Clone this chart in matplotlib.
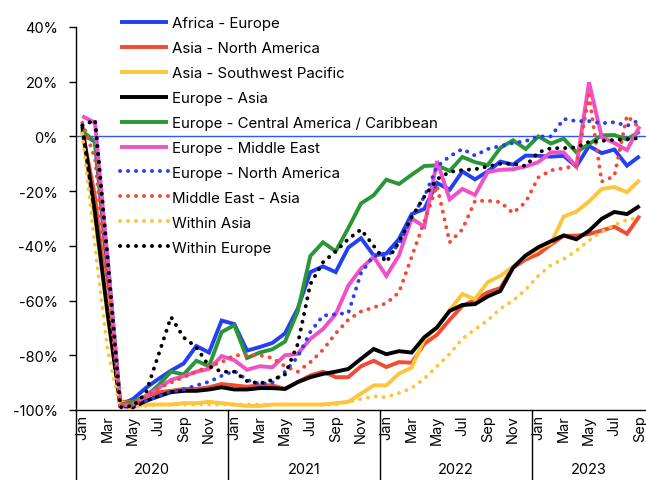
import matplotlib
matplotlib.use("Agg")
import matplotlib.pyplot as plt
import matplotlib.transforms as mtransforms
from matplotlib.lines import Line2D

plt.rcParams['font.family'] = ['Inter', 'DejaVu Sans']

years = ["2020", "2021", "2022", "2023"]
month_names = ["Jan", "Feb", "Mar", "Apr", "May", "Jun", "Jul", "Aug", "Sep", "Oct", "Nov", "Dec"]
n_months = 45  # Jan 2020 .. Sep 2023

africa_europe = [1, -2, -50, -98, -96, -92, -88.7, -85.6, -83, -76.6, -79, -67.3,
                 -68.6, -78.3, -77, -75.5, -72, -63, -49.6, -47.5, -49.6, -40.6, -37.2, -43.5,
                 -42.8, -37.5, -28.4, -26.5, -17, -19.5, -12.8, -15.7, -12.8, -9.2, -10.3, -7,
                 -7.1, -7.4, -7.1, -11, -3.5, -6.1, -4.8, -10.7, -7.2]
asia_north_america = [2, -22, -62, -97, -97, -95, -93.5, -93, -92.3, -92.3, -91.7, -90.5,
                      -91, -91.5, -91, -91, -92.3, -89.8, -87.4, -86, -88, -88, -84, -82,
                      -84.3, -82.5, -82.7, -75.8, -72.5, -67, -62, -59.7, -57, -55.4, -48, -45,
                      -43, -39.5, -36.3, -36.3, -35.7, -34.4, -33, -35.6, -29]
asia_sw_pacific = [2, -30, -62, -97, -98.5, -98, -98, -98, -97.5, -97.5, -97, -97.5,
                   -98, -98.5, -98.5, -98, -98, -98, -98, -98, -97.5, -97, -94, -91,
                   -91, -86.7, -84.5, -74, -70, -63.5, -57.6, -59.5, -53.3, -51, -47.6, -44,
                   -41, -39, -29.3, -27.5, -23.8, -19.2, -18.5, -20.4, -15.9]
europe_asia = [3.5, -28, -65, -98.5, -99, -96.7, -95, -93.5, -93, -93, -92.5, -91.7,
               -92.5, -92.5, -92, -92, -92.3, -89.8, -88, -86.8, -86, -85, -81.3, -77.7,
               -79.6, -78.5, -79, -73.4, -69.8, -63.8, -61.6, -61.3, -58.5, -56.5, -48, -43.5,
               -40.5, -38.3, -36.2, -37.6, -34.5, -30.1, -27.6, -28.4, -25.4]
europe_central_america = [2, -2, -45, -98, -97, -95, -91, -86, -87, -82, -84, -71.5,
                          -69, -81, -79, -77.8, -75, -64, -43.7, -38.7, -42, -33.5, -24.5, -21.5,
                          -15.8, -17.4, -14, -10.8, -10.6, -12.6, -7.5, -9.4, -10.5, -4.2, -1.4, -4.6,
                          0, -2.6, -0.8, -5.8, -2.8, 0.4, 0.5, -1.1, 1.8]
europe_middle_east = [7.4, 5, -45, -98.5, -98, -95, -92, -89, -87.6, -86, -85, -80.3,
                      -81.8, -85.3, -84, -84.4, -80, -79.5, -74, -70.4, -65, -54.5, -48.3, -44,
                      -51, -43.5, -30, -33, -9, -23, -19.2, -21.4, -13, -12.2, -12, -11,
                      -9.4, -5.8, -5.8, -11, 19.8, -0.2, -2.4, -5, 3.7]
europe_north_america = [4, 6, -45, -98.5, -98, -96.7, -95, -93.4, -92.5, -91, -89.7, -87.5,
                        -85.7, -89, -90.5, -90, -86, -80.6, -71.5, -65.5, -65, -64.5, -50, -43.6,
                        -44, -39.5, -29.5, -22, -11, -7.3, -4.6, -7, -4.6, -3.5, -2.4, -1.7,
                        0, 0, 6.4, 5.6, 5.6, 4.8, 5.2, 3.9, 6]
middle_east_asia = [5, -8, -55, -98, -98, -95, -92, -90, -88, -86, -84, -82.5,
                    -80, -80, -80, -81, -84, -86, -82.5, -78, -72, -67, -64, -62.5,
                    -61, -57, -44, -31, -18, -38.7, -34, -23.6, -23.5, -24, -28, -24,
                    -15, -12.4, -11.6, -10.7, 15, -16.5, -14.5, 7.6, 3]
within_asia = [1, -40, -78, -99.5, -99, -98.5, -98, -98, -98, -98, -98, -98,
               -98, -98, -98, -98, -98, -98, -98, -98, -98, -97, -96, -95,
               -95.3, -93.8, -92, -88.5, -84, -79.5, -74, -70.5, -67.3, -63, -60, -56,
               -51, -47, -44.8, -41.8, -38, -34.8, -32.4, -30.5, -29.6]
within_europe = [4, 6, -45, -99, -98.5, -94, -80, -66, -73.5, -77, -84, -86,
                 -86, -89.4, -90.3, -89, -87, -76, -54, -46, -42, -37.5, -34, -40,
                 -46, -38.6, -29.5, -22, -15.6, -13, -12.3, -12, -11, -10, -10, -10.8,
                 -5.8, -4.3, -4.3, -4, -2, -1.6, -1.3, -1, -0.6]

series = [
    ("Africa - Europe", africa_europe, "#2440f5", "solid"),
    ("Asia - North America", asia_north_america, "#f24a33", "solid"),
    ("Asia - Southwest Pacific", asia_sw_pacific, "#fcc63a", "solid"),
    ("Europe - Asia", europe_asia, "#000000", "solid"),
    ("Europe - Central America / Caribbean", europe_central_america, "#2a9638", "solid"),
    ("Europe - Middle East", europe_middle_east, "#f050c8", "solid"),
    ("Europe - North America", europe_north_america, "#2440f5", "dotted"),
    ("Middle East - Asia", middle_east_asia, "#f24a33", "dotted"),
    ("Within Asia", within_asia, "#fcc63a", "dotted"),
    ("Within Europe", within_europe, "#000000", "dotted"),
]

W, H = 646, 481
fig = plt.figure(figsize=(W / 100, H / 100), dpi=100)
ax = fig.add_axes([76 / W, 1 - 411 / H, (646 - 76) / W, (411 - 28) / H])

x = list(range(n_months))
handles = []
for name, vals, color, style in series:
    if style == "solid":
        ln, = ax.plot(x, vals, color=color, lw=2.8, solid_capstyle="butt",
                      solid_joinstyle="miter", label=name, zorder=3)
    else:
        ln, = ax.plot(x, vals, color=color, lw=2.8, linestyle=(0, (0.05, 2.0)),
                      dash_capstyle="round", label=name, zorder=3)
    handles.append(ln)

ax.axhline(0, color="#3355ff", lw=1.0, zorder=2)

ax.set_xlim(-0.5, n_months - 0.5)
ax.set_ylim(-100, 40)
ax.set_yticks(range(-100, 41, 20))
ax.set_yticklabels([f"{v}%" for v in range(-100, 41, 20)], fontsize=10.5)
ax.tick_params(axis="y", length=5, width=1, pad=8, color="#000000")

ticks = list(range(0, n_months, 2))
ax.set_xticks(ticks)
ax.set_xticklabels([month_names[i % 12] for i in ticks], rotation=90, fontsize=10.5)
ax.tick_params(axis="x", length=0, pad=3)

for s in ["top", "right"]:
    ax.spines[s].set_visible(False)
ax.spines["left"].set_linewidth(1)
ax.spines["bottom"].set_linewidth(1)

trans = mtransforms.blended_transform_factory(ax.transData, ax.transAxes)
ybot = -(H - 411) / (411 - 28)
for b in [-0.5, 11.5, 23.5, 35.5]:
    ax.add_line(Line2D([b, b], [0, ybot], transform=trans, color="black", lw=1, clip_on=False))
ylab = -(470 - 411) / (411 - 28)
starts = [-0.5, 11.5, 23.5, 35.5]
ends = [11.5, 23.5, 35.5, n_months - 0.5]
for yr, s0, e0 in zip(years, starts, ends):
    ax.text((s0 + e0) / 2, ylab, yr, transform=trans, ha="center", va="center", fontsize=10.5)

leg = fig.legend(handles=handles, loc="upper left",
                 bbox_to_anchor=(120 / W, 1 - 17 / H), frameon=False,
                 fontsize=10.8, handlelength=3.2, handletextpad=0.3,
                 labelspacing=0.73, borderaxespad=0, borderpad=0)

fig.savefig("out.png", dpi=100)
